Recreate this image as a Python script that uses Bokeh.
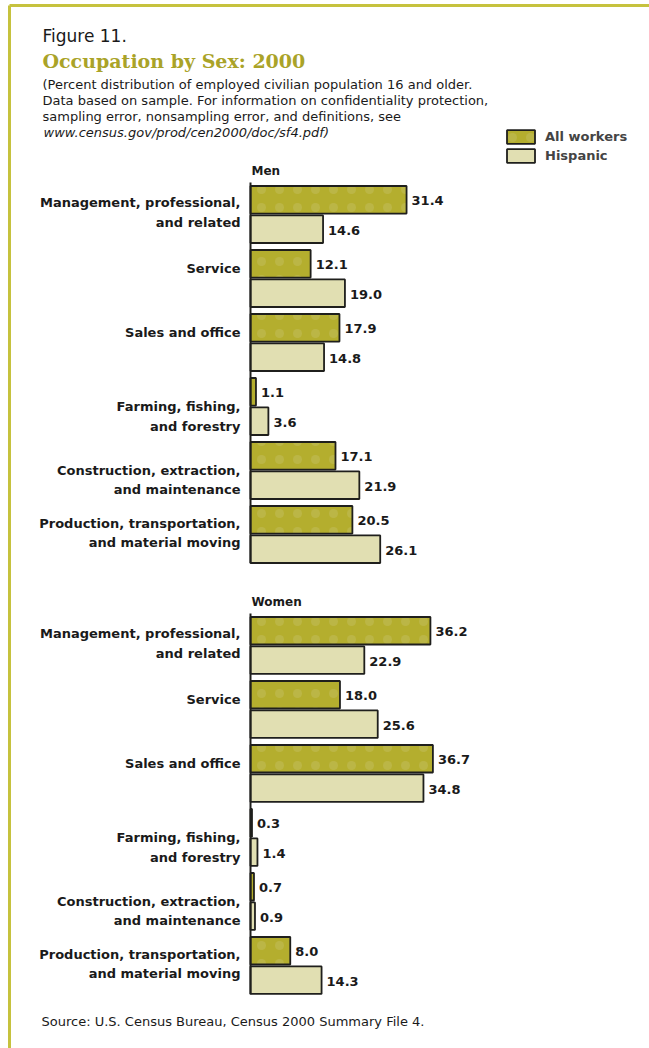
from bokeh.plotting import figure
from bokeh.models import Range1d, ColumnDataSource, Legend, LegendItem
from bokeh.core.properties import value
from bokeh.embed import file_html
from bokeh.resources import INLINE

# ---------------- data ----------------
categories = [
    "Management, professional,\nand related",
    "Service",
    "Sales and office",
    "Farming, fishing,\nand forestry",
    "Construction, extraction,\nand maintenance",
    "Production, transportation,\nand material moving",
]
groups = ["Men", "Women"]
series = ["All workers", "Hispanic"]
men_all = [31.4, 12.1, 17.9, 1.1, 17.1, 20.5]
men_hisp = [14.6, 19.0, 14.8, 3.6, 21.9, 26.1]
women_all = [36.2, 18.0, 36.7, 0.3, 0.7, 8.0]
women_hisp = [22.9, 25.6, 34.8, 1.4, 0.9, 14.3]

fig_label = "Figure 11."
title_text = "Occupation by Sex: 2000"
note_lines = [
    "(Percent distribution of employed civilian population 16 and older.",
    "Data based on sample.  For information on confidentiality protection,",
    "sampling error, nonsampling error, and definitions, see",
]
note_url = "www.census.gov/prod/cen2000/doc/sf4.pdf)"
source_text = "Source: U.S. Census Bureau, Census 2000 Summary File 4."

# ---------------- layout / style ----------------
W, H = 649, 1048
PX_UNIT = 4.97                # px per percent
ZERO_PX = 250                 # page x of the value axis
SLOT = 64                     # px per category slot
POS0_PX = 214                 # page y of first category centre
GROUP_GAP = 0.734             # extra slots between Men and Women
DODGE = 0.23
BAR_H = 0.43
LABEL_DY_PX = [-2, -10, -10, 10, 9.5, -1.5]   # label nudges per category

x_start = -ZERO_PX / PX_UNIT
x_end = x_start + W / PX_UNIT
y_top = -POS0_PX / SLOT
y_bottom = y_top + H / SLOT


def X(px):
    return x_start + px / PX_UNIT


def Y(py):
    return y_top + py / SLOT


C_ALL = "#b4ae2e"
C_HISP = "#e1dfb2"
C_EDGE = "#1f1f1c"
C_TITLE = "#aaa328"
C_BORDER = "#c6c23e"
C_TEXT = "#1a1a1a"
FONT_NAME = "DejaVu Sans"
FONT = value(FONT_NAME)

p = figure(
    width=W, height=H,
    x_range=Range1d(x_start, x_end),
    y_range=Range1d(y_bottom, y_top),
    output_backend="svg", toolbar_location=None,
    x_axis_location=None, y_axis_location=None,
    min_border=0, border_fill_color="white", background_fill_color="white",
    outline_line_color=None, title=None,
)
p.grid.visible = False

# page border (top and left rules)
p.segment(x0=[X(9), X(9)], y0=[Y(5), Y(5)], x1=[X(W), X(9)], y1=[Y(5), Y(H)],
          line_color=C_BORDER, line_width=3)

group_vals = [(men_all, men_hisp), (women_all, women_hisp)]
offsets = [g * (len(categories) + GROUP_GAP) for g in range(len(groups))]

all_y, all_v, hisp_y, hisp_v = [], [], [], []
cat_y, cat_t = [], []
for off, (va, vh) in zip(offsets, group_vals):
    for i, cat in enumerate(categories):
        all_y.append(off + i - DODGE)
        all_v.append(va[i])
        hisp_y.append(off + i + DODGE)
        hisp_v.append(vh[i])
        cat_y.append(off + i + LABEL_DY_PX[i] / SLOT)
        cat_t.append(cat)

src_all = ColumnDataSource(dict(y=all_y, v=all_v, t=[f"{v:.1f}" for v in all_v]))
src_hisp = ColumnDataSource(dict(y=hisp_y, v=hisp_v, t=[f"{v:.1f}" for v in hisp_v]))

r_all = p.hbar(y="y", right="v", left=0, height=BAR_H, source=src_all,
               fill_color=C_ALL, line_color=C_EDGE, line_width=1.8,
               hatch_pattern="dot", hatch_color="#d6d39a", hatch_scale=18,
               hatch_weight=0.4, hatch_alpha=0.22)
r_hisp = p.hbar(y="y", right="v", left=0, height=BAR_H, source=src_hisp,
                fill_color=C_HISP, line_color=C_EDGE, line_width=1.8)

for src in (src_all, src_hisp):
    p.text(x="v", y="y", text="t", source=src, x_offset=5, y_offset=1,
           text_baseline="middle", text_align="left",
           text_font=FONT, text_font_size="13px", text_font_style="bold",
           text_color=C_TEXT)

# value axis lines
p.segment(x0=[0] * len(offsets), x1=[0] * len(offsets),
          y0=[o - 0.5 for o in offsets], y1=[o + 5.45 for o in offsets],
          line_color=C_EDGE, line_width=2)

# group headers
p.text(x=[0] * len(groups), y=[o - 0.68 for o in offsets], text=groups,
       x_offset=1, text_baseline="middle", text_font=FONT,
       text_font_size="12px", text_font_style="bold", text_color=C_TEXT)

# category labels
p.text(x=[X(240)] * len(cat_t), y=cat_y, text=cat_t,
       text_align="right", text_baseline="middle", text_line_height=1.29,
       text_font=FONT, text_font_size="13px", text_font_style="bold",
       text_color=C_TEXT)

# header texts
p.text(x=[X(42)], y=[Y(35)], text=[fig_label], text_baseline="middle",
       text_font=FONT, text_font_size="17px", text_color=C_TEXT)
p.text(x=[X(42)], y=[Y(60)], text=[title_text], text_baseline="middle",
       text_font=value("DejaVu Serif"), text_font_size="19px",
       text_font_style="bold", text_color=C_TITLE)
p.text(x=[X(42)] * len(note_lines), y=[Y(84 + 16 * k) for k in range(len(note_lines))],
       text=note_lines, text_baseline="middle", text_font=FONT,
       text_font_size="13px", text_color=C_TEXT)
p.text(x=[X(43)], y=[Y(132)], text=[note_url], text_baseline="middle",
       text_font=FONT, text_font_size="13px", text_font_style="italic",
       text_color=C_TEXT)
p.text(x=[X(41)], y=[Y(1021)], text=[source_text], text_baseline="middle",
       text_font=FONT, text_font_size="13px", text_color=C_TEXT)

legend = Legend(
    items=[LegendItem(label=series[0], renderers=[r_all]),
           LegendItem(label=series[1], renderers=[r_hisp])],
    location=(503, H - 128 - 36),
    glyph_width=35, glyph_height=17, padding=0, spacing=2, margin=0,
    border_line_color=None, background_fill_alpha=0, label_standoff=7,
    label_text_font=FONT_NAME, label_text_font_size="13px",
    label_text_font_style="bold", label_height=17,
)
p.add_layout(legend)

open("out.html", "w").write(file_html(p, INLINE))
